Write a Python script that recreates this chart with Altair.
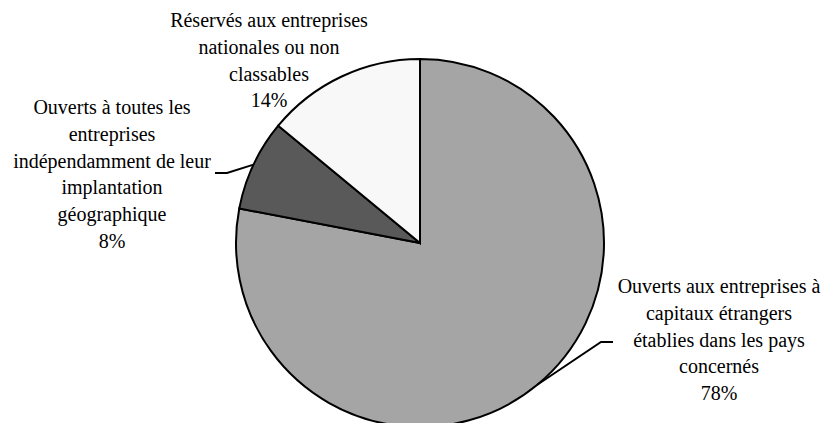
import math
import altair as alt
import pandas as pd

# ---- data ----
categories = [
    "Ouverts aux entreprises à\ncapitaux étrangers\nétablies dans les pays\nconcernés",
    "Ouverts à toutes les\nentreprises\nindépendamment de leur\nimplantation\ngéographique",
    "Réservés aux entreprises\nnationales ou non\nclassables",
]
shares = [78, 8, 14]
colors = ["#A5A5A5", "#595959", "#F8F8F8"]

# ---- layout ----
W, H = 814, 360
PAD = {"left": 13, "top": 63, "right": 0, "bottom": 0}
CX, CY, R = W / 2, H / 2, 184
FONT = "Liberation Serif"
FS = 20
LH = 26.8
label_pos = [(706, 230), (99, 51), (256, -36)]          # first-line baseline, plot coords
leader_elbow = [[(588, 279), (600, 279)], [(214, 110), (202, 110)], None]

order = list(range(len(shares)))
df = pd.DataFrame({"cat": categories, "share": shares, "order": order})

pie = alt.Chart(df).mark_arc(
    outerRadius=R, stroke="black", strokeWidth=2
).encode(
    theta=alt.Theta("share:Q", stack=True),
    order=alt.Order("order:Q"),
    color=alt.Color("cat:N", scale=alt.Scale(domain=categories, range=colors), legend=None),
)

# labels
lab_rows = []
total = sum(shares)
for c, s, (lx, ly) in zip(categories, shares, label_pos):
    lab_rows.append({"txt": f"{c}\n{round(100 * s / total)}%", "lx": lx, "ly": ly})
labels = alt.Chart(pd.DataFrame(lab_rows)).mark_text(
    font=FONT, fontSize=FS, lineHeight=LH, align="center", baseline="alphabetic",
    lineBreak="\n", color="black"
).encode(
    x=alt.X("lx:Q", scale=None, axis=None),
    y=alt.Y("ly:Q", scale=None, axis=None),
    text="txt:N",
)

# leader lines: start at slice mid-angle on the rim (derived from data)
line_rows = []
cum = 0
for i, s in enumerate(shares):
    mid = 2 * math.pi * (cum + s / 2) / total
    cum += s
    if leader_elbow[i] is None:
        continue
    pts = [(CX + R * math.sin(mid), CY - R * math.cos(mid))] + leader_elbow[i]
    for k, (px, py) in enumerate(pts):
        line_rows.append({"id": i, "k": k, "px": px, "py": py})
leaders = alt.Chart(pd.DataFrame(line_rows)).mark_line(
    color="black", strokeWidth=2
).encode(
    x=alt.X("px:Q", scale=None, axis=None),
    y=alt.Y("py:Q", scale=None, axis=None),
    detail="id:N",
    order="k:Q",
)

chart = alt.layer(pie, leaders, labels).properties(
    width=W, height=H, padding=PAD,
    autosize=alt.AutoSizeParams(type="none"),
    background="white",
).configure(font=FONT).configure_text(font=FONT).configure_view(stroke=None)

chart.save("out.html", embed_options={"renderer": "svg", "actions": False})
